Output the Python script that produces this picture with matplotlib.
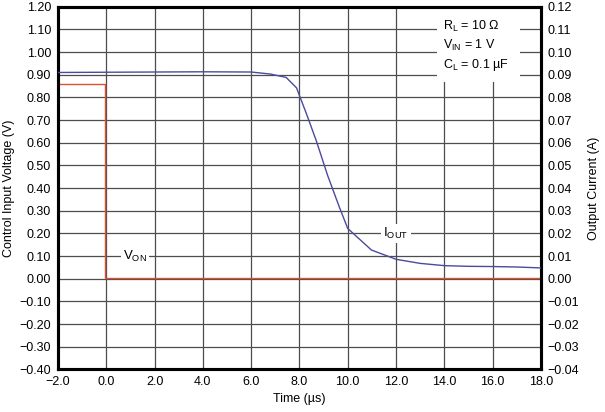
import matplotlib
matplotlib.use('Agg')
import matplotlib.pyplot as plt
from matplotlib.patches import Rectangle
from matplotlib.ticker import MultipleLocator, FuncFormatter

plt.rcParams['font.family'] = ['Liberation Sans', 'DejaVu Sans']

# Output current I_OUT (right axis, A)
t_iout = [-2.0, 0.0, 2.0, 4.0, 6.0, 6.8, 7.45, 7.88, 8.3, 8.7, 9.17, 9.65,
          10.0, 10.98, 12.0, 13.0, 14.0, 15.0, 16.0, 17.0, 18.0]
iout = [0.0910, 0.0911, 0.0912, 0.0913, 0.0912, 0.0903, 0.0888, 0.0842,
        0.0725, 0.0608, 0.0455, 0.0317, 0.0222, 0.0127, 0.0086, 0.0068,
        0.0058, 0.0055, 0.0054, 0.0052, 0.0048]

# Control input voltage V_ON (left axis, V)
t_von = [-2.0, -0.05, -0.05, 18.0]
von = [0.86, 0.86, 0.004, 0.004]

conditions = ['R$_\\mathregular{L}$ = 10 Ω',
              'V$_\\mathregular{IN}$ = 1 V',
              'C$_\\mathregular{L}$ = 0.1 µF']
cond_y = [1.115, 1.03, 0.945]

blue = '#4a4a9e'
red = '#e0502f'
grid_c = '#4d4d4d'


def fmt(d):
    return FuncFormatter(lambda v, p: ('%.*f' % (d, v)).replace('-', '\u2212'))


fig = plt.figure(figsize=(6.05, 4.12), dpi=100)
ax = fig.add_axes([0.0959, 0.1032, 0.7981, 0.8805])
ax2 = ax.twinx()

ax.set_xlim(-2, 18)
ax.set_ylim(-0.4, 1.2)
ax2.set_ylim(-0.04, 0.12)

ax.xaxis.set_major_locator(MultipleLocator(2))
ax.yaxis.set_major_locator(MultipleLocator(0.1))
ax2.yaxis.set_major_locator(MultipleLocator(0.01))
ax.xaxis.set_major_formatter(fmt(1))
ax.yaxis.set_major_formatter(fmt(2))
ax2.yaxis.set_major_formatter(fmt(2))

ax.grid(True, color=grid_c, linewidth=0.9, zorder=0)
ax.set_axisbelow(True)
for a in (ax, ax2):
    a.tick_params(length=0, labelsize=9, pad=5)
    for s in a.spines.values():
        s.set_linewidth(2.2)
        s.set_color('black')

ax.plot(t_von, von, color=red, linewidth=1.0, zorder=3)
ax2.plot(t_iout, iout, color=blue, linewidth=1.0, zorder=3)

# white box behind the conditions text
ax.add_patch(Rectangle((13.7, 0.868), 3.45, 0.35, facecolor='white',
                       edgecolor='none', zorder=1))
for txt, yy in zip(conditions, cond_y):
    ax.text(13.95, yy, txt, ha='left', va='center', fontsize=9, zorder=4)

box = dict(facecolor='white', edgecolor='none', pad=1.5)
ax.text(1.2, 0.10, 'V$_\\mathregular{ON}$', ha='center', va='center',
        fontsize=9.5, bbox=box, zorder=4)
ax.text(12.0, 0.20, 'I$_\\mathregular{OUT}$', ha='center', va='center',
        fontsize=9.5, bbox=box, zorder=4)

ax.set_xlabel('Time (µs)', fontsize=9, labelpad=3)
ax.set_ylabel('Control Input Voltage (V)', fontsize=9, labelpad=3)
ax2.set_ylabel('Output Current (A)', fontsize=9, labelpad=6)

fig.savefig('out.png', dpi=100)
